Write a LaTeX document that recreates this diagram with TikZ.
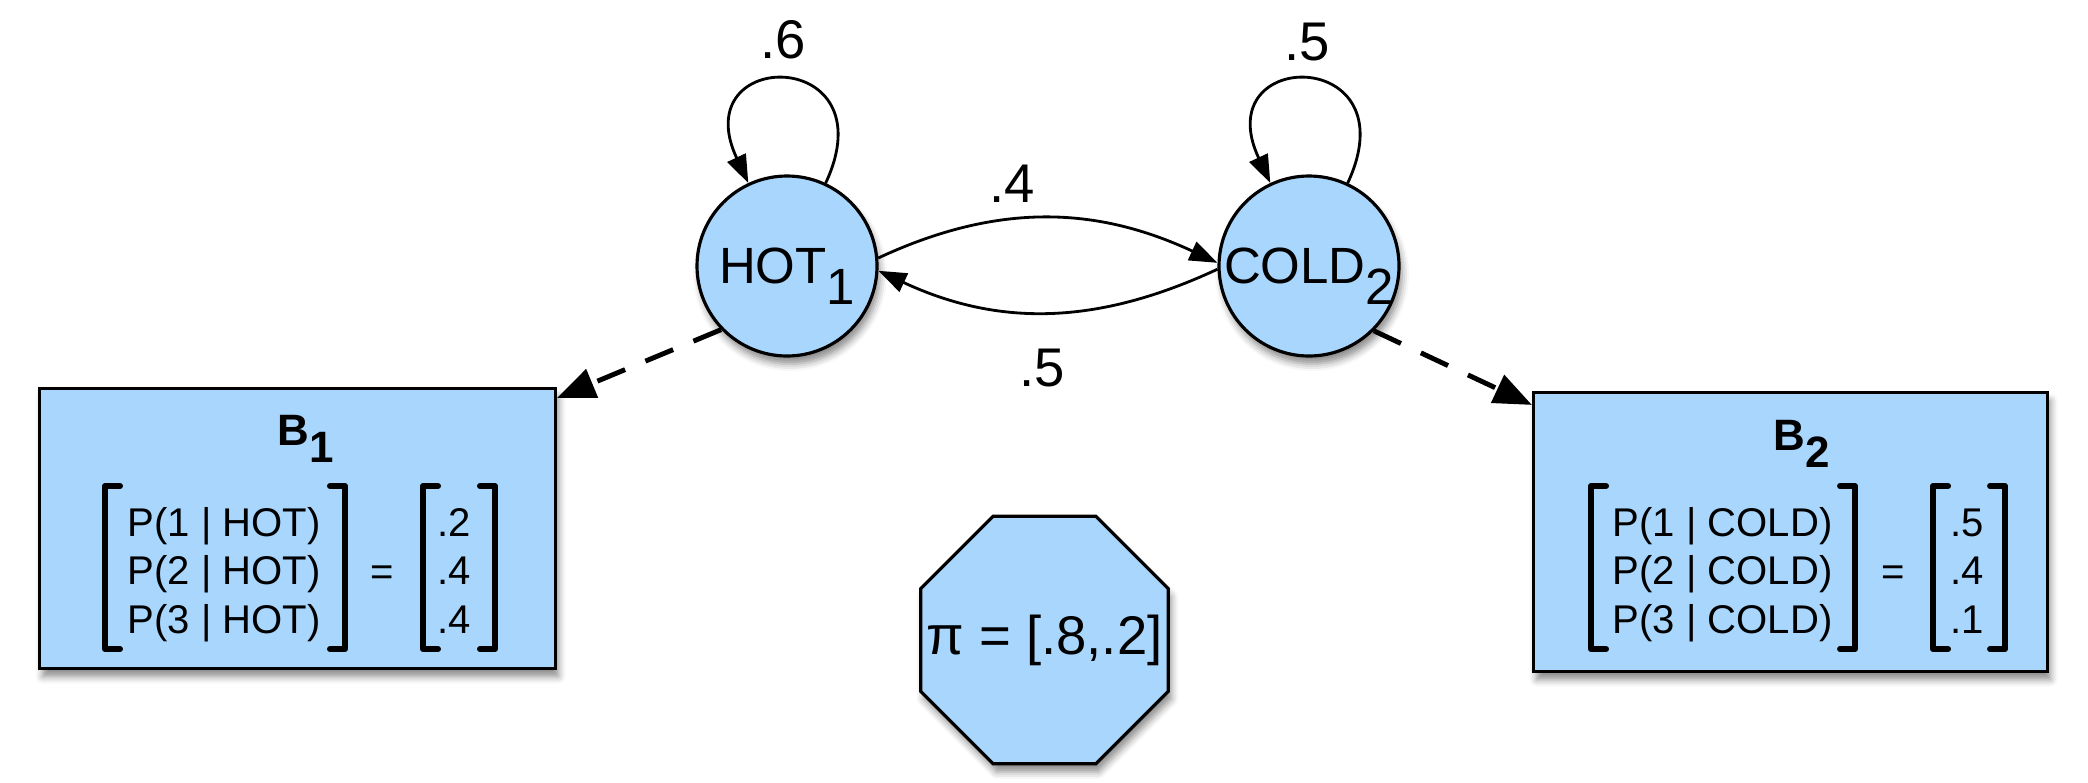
\documentclass[tikz,border=0pt]{standalone}
\usepackage{fontspec}
\setmainfont{Liberation Sans}
\usetikzlibrary{arrows.meta,shapes.geometric,shadows.blur}
\definecolor{stateblue}{RGB}{168,214,253}
\newcommand{\lowidx}[1]{\raisebox{-0.4em}{#1}}

\begin{document}
\begin{tikzpicture}[
  soft/.style={blur shadow={shadow xshift=0.3mm, shadow yshift=-0.8mm, shadow blur radius=0.7mm, shadow opacity=45}},
  state/.style={circle, draw, line width=0.9pt, fill=stateblue, soft, minimum size=1.8cm, inner sep=0pt, text depth=0pt, font=\fontsize{14.5}{17}\selectfont},
  obsbox/.style={rectangle, draw, line width=0.9pt, fill=stateblue, soft},
  trans/.style={-{Triangle[length=0.28cm,width=0.2cm]}, line width=0.8pt},
  emit/.style={-{Triangle[length=0.38cm,width=0.3cm]}, line width=1.4pt, dash pattern=on 0.3cm off 0.22cm},
  prob/.style={inner sep=0pt, font=\fontsize{15.5}{18}\selectfont},
  head/.style={anchor=base, inner sep=0pt, font=\fontsize{12.5}{15}\selectfont\bfseries},
  entry/.style={anchor=base west, inner sep=0pt, font=\fontsize{11.4}{13.8}\selectfont},
  brk/.style={line width=1.7pt, line cap=round, line join=round}]
\useasboundingbox (0,0) rectangle (20.88,-7.82);
% hidden states
\node[state] (hot) at (7.87,-2.66) {HOT\lowidx{1}};
\node[state] (cold) at (13.09,-2.66) {COLD\lowidx{2}};
% transitions
\draw[trans] (hot) to[out=65,in=115,looseness=5] (hot);
\draw[trans] (cold) to[out=65,in=115,looseness=5] (cold);
\draw[trans] (hot.5) to[out=25,in=155] (cold.178);
\draw[trans] (cold.182) to[out=205,in=-25] (hot.-3);
\node[prob] (phh) at (7.83,-0.40) {.6};
\node[prob] (pcc) at (13.07,-0.42) {.5};
\node[prob] (phc) at (10.12,-1.84) {.4};
\node[prob] (pch) at (10.42,-3.68) {.5};
% emission boxes
\node[obsbox, minimum width=5.16cm, minimum height=2.80cm] (b1) at (2.975,-5.285) {};
\node[obsbox, minimum width=5.14cm, minimum height=2.79cm] (b2) at (17.905,-5.32) {};
\draw[emit] (hot.224) -- ([yshift=-0.11cm]b1.north east);
\draw[emit] (cold.-45) -- ([yshift=-0.14cm]b2.north west);
\node[head] (b1head) at (3.06,-4.45) {B\lowidx{1}};
\node[head] (b2head) at (18.02,-4.50) {B\lowidx{2}};
\foreach \i/\v in {1/.2,2/.4,3/.4} {
  \node[entry] (hotrow\i) at (1.27,{-5.36-0.485*(\i-1)}) {P(\i{} | HOT)};
  \node[entry] (hotval\i) at (4.37,{-5.36-0.485*(\i-1)}) {\v};
}
\foreach \i/\v in {1/.5,2/.4,3/.1} {
  \node[entry] (coldrow\i) at (16.12,{-5.36-0.485*(\i-1)}) {P(\i{} | COLD)};
  \node[entry] (coldval\i) at (19.50,{-5.36-0.485*(\i-1)}) {\v};
}
\node[entry] (b1eq) at (3.70,-5.85) {=};
\node[entry] (b2eq) at (18.81,-5.85) {=};
\foreach \xa/\xb in {1.05/1.20, 3.45/3.30, 4.23/4.38, 4.95/4.80, 15.91/16.06, 18.55/18.40, 19.33/19.48, 20.05/19.90}
  \draw[brk] (\xb,-4.86) -- (\xa,-4.86) -- (\xa,-6.49) -- (\xb,-6.49);
% initial distribution
\node[regular polygon, regular polygon sides=8, draw, line width=0.9pt, fill=stateblue, soft, minimum size=2.68cm, inner sep=0pt, font=\fontsize{15.5}{18}\selectfont] (init) at (10.445,-6.40) {\makebox[0pt]{π = [.8,.2]}};
\end{tikzpicture}
\end{document}
